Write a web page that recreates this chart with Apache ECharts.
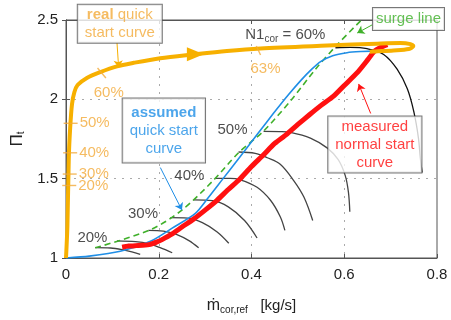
<!DOCTYPE html>
<html><head><meta charset="utf-8">
<script src="https://cdn.jsdelivr.net/npm/echarts@6/dist/echarts.min.js"></script>
<style>html,body{margin:0;padding:0;background:#fff}#c{width:451px;height:320px}</style>
</head><body><div id="c"></div>
<script>
// ---- axes ----
const xTickLabels = ['0', '0.2', '0.4', '0.6', '0.8'];
const yTickLabels = ['1', '1.5', '2', '2.5'];

// ---- speed lines (N1cor) ----
const speedNames = ['15%', '20%', '25%', '30%', '35%', '40%', '45%', '50%', '60%'];
const sl15 = [[0.063,1.065],[0.096,1.063],[0.121,1.053],[0.142,1.039],[0.160,1.023]];
const sl20 = [[0.110,1.108],[0.150,1.103],[0.178,1.090],[0.203,1.065],[0.229,1.033]];
const sl25 = [[0.178,1.174],[0.210,1.170],[0.238,1.149],[0.266,1.108],[0.286,1.064]];
const sl30 = [[0.225,1.254],[0.262,1.251],[0.294,1.223],[0.326,1.164],[0.351,1.093]];
const sl35 = [[0.275,1.366],[0.316,1.361],[0.350,1.322],[0.385,1.236],[0.412,1.126]];
const sl40 = [[0.322,1.502],[0.354,1.502],[0.376,1.493],[0.412,1.446],[0.441,1.364],[0.462,1.260],[0.472,1.174]];
const sl45 = [[0.372,1.668],[0.408,1.660],[0.434,1.632],[0.462,1.591],[0.491,1.488],[0.513,1.384],[0.532,1.236]];
const sl50 = [[0.426,1.798],[0.462,1.797],[0.484,1.792],[0.527,1.756],[0.563,1.694],[0.587,1.620],[0.602,1.521],[0.609,1.415],[0.612,1.291]];
const sl60 = [[0.581,2.325],[0.613,2.327],[0.649,2.319],[0.685,2.283],[0.714,2.190],[0.736,2.066],[0.750,1.922],[0.760,1.756],[0.764,1.632],[0.768,1.539]];

// ---- surge line ----
const surgeLine = [[0.063,1.064],[0.182,1.178],[0.250,1.302],[0.318,1.490],[0.372,1.663],[0.426,1.800],[0.488,2.004],[0.538,2.190],[0.585,2.345],[0.637,2.500]];

// ---- assumed quick start curve ----
const assumedCurve = [[0,1],[0.05,1.012],[0.117,1.043],[0.182,1.105],[0.229,1.188],[0.279,1.281],[0.307,1.381],[0.337,1.494],[0.377,1.645],[0.415,1.789],[0.447,1.910],[0.480,2.030],[0.506,2.118],[0.530,2.190],[0.549,2.238],[0.575,2.275],[0.606,2.294],[0.635,2.301],[0.663,2.304],[0.678,2.300]];

// ---- measured normal start curve ----
const measuredCurve = [[0.121,1.068],[0.135,1.075],[0.150,1.078],[0.165,1.080],[0.182,1.086],[0.195,1.100],[0.207,1.116],[0.228,1.150],[0.250,1.195],[0.275,1.245],[0.300,1.302],[0.325,1.362],[0.350,1.432],[0.375,1.498],[0.400,1.577],[0.425,1.648],[0.450,1.722],[0.475,1.778],[0.500,1.842],[0.525,1.903],[0.550,1.962],[0.577,2.020],[0.600,2.087],[0.628,2.168],[0.650,2.247],[0.664,2.300],[0.680,2.330],[0.693,2.345]];

// ---- real quick start curve ----
const realCurve = [[0,1],[0.003,1.2],[0.006,1.63],[0.009,1.82],[0.013,1.97],[0.018,2.045],[0.025,2.09],[0.045,2.135],[0.074,2.172],[0.110,2.208],[0.146,2.230],[0.203,2.259],[0.275,2.283],[0.347,2.305],[0.419,2.321],[0.563,2.339],[0.671,2.351],[0.721,2.355],[0.743,2.348],[0.749,2.336],[0.739,2.317],[0.706,2.308],[0.667,2.302],[0.655,2.300]];
const realArrow = [0.279, 2.284];

// ---- percentage ticks on real curve ----
const realTickNames = ['20%', '30%', '40%', '50%'];
const realTickX = [0.007, 0.008, 0.009, 0.010];
const realTickY = [1.457, 1.529, 1.663, 1.849];
const realTick60 = [0.077, 2.166];
const realTick63 = [0.415, 2.308];

// ---- speed line labels ----
const speedLabelNames = ['20%', '30%', '40%', '50%'];
const speedLabelX = [0.057, 0.166, 0.266, 0.359];
const speedLabelY = [1.130, 1.276, 1.515, 1.806];

const FONT = 'Liberation Sans, Arial, Helvetica, sans-serif';
const ORANGE = '#f7b000', ORANGE_T = '#f2aa3a', BLUE = '#1f8ee6', RED = '#ff1010', GREEN = '#3fb02a', DARK = '#444';

function speedSeries(data, color) {
  return {type: 'line', data, smooth: 0.35, symbol: 'none', silent: true, z: 2,
          lineStyle: {color, width: 1.3}};
}
function textSeries(x, y, formatter, label, z) {
  return {type: 'scatter', clip: false, silent: true, z: z || 10, symbolSize: 1,
          itemStyle: {color: 'rgba(0,0,0,0)'},
          data: [[x, y]],
          label: Object.assign({show: true, position: 'inside', formatter, fontFamily: FONT, fontSize: 15}, label)};
}
function arrowSeries(from, to, color) {
  return {type: 'lines', coordinateSystem: 'cartesian2d', silent: true, z: 12,
          symbol: ['none', 'arrow'], symbolSize: 7,
          lineStyle: {color, width: 1, opacity: 1},
          data: [{coords: [from, to]}]};
}

const speedAll = [sl15, sl20, sl25, sl30, sl35, sl40, sl45, sl50, sl60];
const series = [];
speedAll.forEach((d, i) => series.push(speedSeries(d, speedNames[i] === '60%' ? '#111' : DARK)));
series.push({type: 'line', data: surgeLine, smooth: 0.3, symbol: 'none', silent: true, z: 3,
             lineStyle: {color: GREEN, width: 1.6, type: [6, 4]}});
series.push({type: 'line', data: assumedCurve, smooth: 0.25, symbol: 'none', silent: true, z: 4,
             lineStyle: {color: BLUE, width: 1.6}});
series.push({type: 'line', data: measuredCurve, smooth: 0.2, symbol: 'none', silent: true, z: 5,
             lineStyle: {color: RED, width: 5}});
series.push({type: 'line', data: realCurve, smooth: 0.3, symbol: 'none', silent: true, z: 6,
             lineStyle: {color: ORANGE, width: 4}});
series.push({type: 'scatter', clip: false, silent: true, z: 9, symbol: 'triangle', symbolSize: [14, 17], symbolRotate: -90,
             itemStyle: {color: ORANGE, opacity: 1}, data: [{value: realArrow}]});
// ticks on real curve
series.push({type: 'scatter', silent: true, z: 7, symbol: 'rect', symbolSize: [14, 1.4],
             itemStyle: {color: ORANGE_T},
             data: realTickNames.map((n, i) => ({name: n, value: [realTickX[i], realTickY[i]]})),
             label: {show: true, position: 'right', distance: 2, formatter: '{b}', color: ORANGE_T, fontFamily: FONT, fontSize: 15}});
series.push({type: 'scatter', silent: true, z: 7, symbol: 'rect', symbolSize: [13, 1.4], symbolRotate: -50,
             itemStyle: {color: ORANGE_T},
             data: [{name: '60%', value: realTick60}],
             label: {show: true, position: 'inside', offset: [7, 20], formatter: '{b}', color: ORANGE_T, fontFamily: FONT, fontSize: 15}});
series.push({type: 'scatter', silent: true, z: 7, symbol: 'rect', symbolSize: [10, 1.4], symbolRotate: -65,
             itemStyle: {color: ORANGE_T},
             data: [{name: '63%', value: realTick63}],
             label: {show: true, position: 'inside', offset: [7, 18], formatter: '{b}', color: ORANGE_T, fontFamily: FONT, fontSize: 15}});
// speed labels
speedLabelNames.forEach((n, i) => series.push(textSeries(speedLabelX[i], speedLabelY[i], n, {color: '#222'})));
series.push(textSeries(0.473, 2.407, 'N1{s|cor} = 60%', {color: '#222',
  rich: {s: {fontSize: 10, fontFamily: FONT, color: '#222', padding: [9, 0, 0, 0]}}}));

// annotation boxes
const boxBase = {backgroundColor: '#fff', borderColor: '#555', borderWidth: 1, lineHeight: 18, align: 'center'};
series.push(textSeries(0.116, 2.476, '{b|real} quick\nstart curve', Object.assign({}, boxBase, {color: ORANGE_T, padding: [1, 7],
  rich: {b: {fontWeight: 'bold', color: ORANGE_T, fontFamily: FONT, fontSize: 15, lineHeight: 18}}}), 15));
series.push(textSeries(0.211, 1.803, '{b|assumed}\nquick start\ncurve', Object.assign({}, boxBase, {color: BLUE, padding: [5, 7],
  rich: {b: {fontWeight: 'bold', color: BLUE, fontFamily: FONT, fontSize: 15, lineHeight: 18}}}), 15));
series.push(textSeries(0.666, 1.716, 'measured\nnormal start\ncurve', Object.assign({}, boxBase, {color: RED, padding: [1, 7]}), 15));
series.push(textSeries(0.7385, 2.5065, 'surge line', Object.assign({}, boxBase, {color: GREEN, padding: [2, 3]}), 15));

// arrows
series.push(arrowSeries([0.110, 2.356], [0.1135, 2.201], ORANGE));
series.push(arrowSeries([0.2034, 1.570], [0.250, 1.302], BLUE));
series.push(arrowSeries([0.657, 1.911], [0.631, 2.097], RED));
series.push(arrowSeries([0.660, 2.469], [0.628, 2.418], GREEN));

const xMin = +xTickLabels[0], xMax = +xTickLabels[xTickLabels.length - 1];
const yMin = +yTickLabels[0], yMax = +yTickLabels[yTickLabels.length - 1];
const xInt = +xTickLabels[1] - xMin, yInt = +yTickLabels[1] - yMin;

const option = {
  animation: false,
  backgroundColor: '#fff',
  grid: {left: 66, right: 14, top: 20, bottom: 58, show: true, borderColor: '#555', borderWidth: 1, backgroundColor: 'transparent'},
  xAxis: [{
    type: 'value', min: xMin, max: xMax, interval: xInt,
    axisLine: {lineStyle: {color: '#555'}},
    axisTick: {inside: true, length: 4, lineStyle: {color: '#555'}},
    axisLabel: {color: '#222', fontFamily: FONT, fontSize: 15, margin: 9,
                formatter: v => xTickLabels[Math.round((v - xMin) / xInt)]},
    splitLine: {show: true, lineStyle: {color: '#aaa', type: [2, 6]}},
    name: '{m|ṁ}{s|cor,ref}   [kg/s]', nameLocation: 'middle', nameGap: 38,
    nameTextStyle: {color: '#222', fontFamily: FONT, fontSize: 15,
      rich: {m: {fontSize: 16, fontFamily: FONT, color: '#222'}, s: {fontSize: 10, fontFamily: FONT, color: '#222', padding: [9, 0, 0, 0]}}}
  }, {
    type: 'value', position: 'top', min: xMin, max: xMax, interval: xInt,
    axisLine: {lineStyle: {color: '#555'}}, axisTick: {inside: true, length: 4, lineStyle: {color: '#555'}},
    axisLabel: {show: false}, splitLine: {show: false}
  }],
  yAxis: [{
    type: 'value', min: yMin, max: yMax, interval: yInt,
    axisLine: {show: true, lineStyle: {color: '#555'}},
    axisTick: {show: true, inside: true, length: 4, lineStyle: {color: '#555'}},
    axisLabel: {color: '#222', fontFamily: FONT, fontSize: 15, margin: 8,
                formatter: v => yTickLabels[Math.round((v - yMin) / yInt)]},
    splitLine: {show: true, lineStyle: {color: '#aaa', type: [2, 6]}},
    name: '{p|Π}{s|t}', nameLocation: 'middle', nameGap: 36, nameRotate: 90,
    nameTextStyle: {color: '#222', fontFamily: FONT, fontSize: 16,
      rich: {p: {fontSize: 17, fontFamily: FONT, color: '#222'}, s: {fontSize: 10, fontFamily: FONT, color: '#222', padding: [8, 0, 0, 0]}}}
  }, {
    type: 'value', position: 'right', min: yMin, max: yMax, interval: yInt,
    axisLine: {show: true, lineStyle: {color: '#555'}}, axisTick: {show: true, inside: true, length: 4, lineStyle: {color: '#555'}},
    axisLabel: {show: false}, splitLine: {show: false}
  }],
  series
};
const chart = echarts.init(document.getElementById('c'), null, {renderer: 'canvas'});
chart.setOption(option);
</script>
</body></html>
